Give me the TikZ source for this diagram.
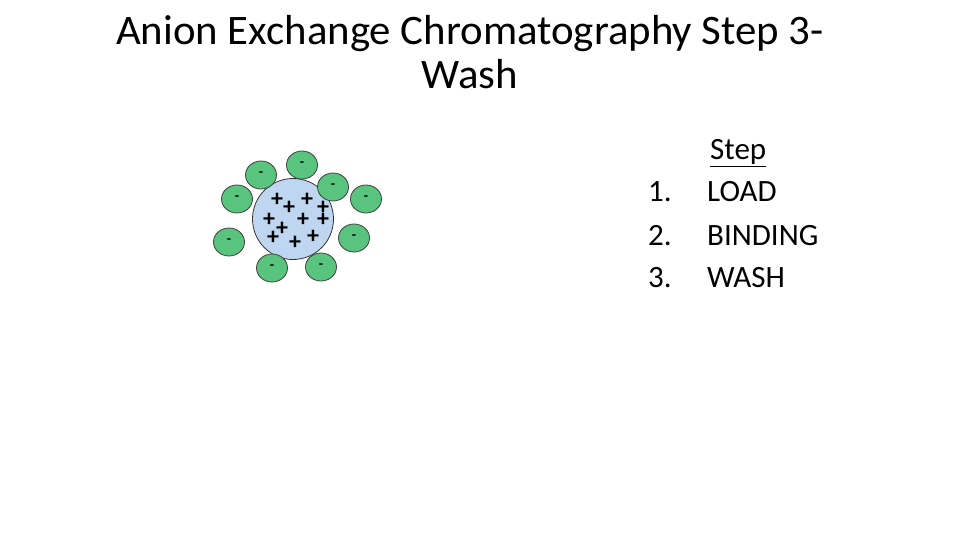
\documentclass[tikz,border=0pt]{standalone}
\usepackage{fontspec}
\setmainfont{Carlito}
\usetikzlibrary{shapes.geometric}
\definecolor{beadblue}{RGB}{190,214,240}
\definecolor{iongreen}{RGB}{88,196,126}
\begin{document}
\begin{tikzpicture}[x=1pt,y=-1pt,
  bead/.style={draw=black!80,fill=beadblue,line width=0.8pt},
  ion/.style={draw=black!75,fill=iongreen,line width=0.8pt,ellipse,minimum width=31pt,minimum height=28pt,inner sep=0pt},
  plus/.style={font=\bfseries\fontsize{24}{24}\selectfont,inner sep=0pt},
  txt/.style={font=\fontsize{31}{31}\selectfont,anchor=base west,inner sep=0pt}]
\useasboundingbox (0,0) rectangle (960,540);
\fill[white] (0,0) rectangle (960,540);
\node[font=\fontsize{42}{44}\selectfont,align=center,inner sep=0pt,xscale=1.02] (title) at (470,52) {Anion Exchange Chromatography Step 3-\\Wash};
\node[bead,circle,minimum size=81pt,inner sep=0pt] (b) at (293,219) {};
\foreach \x/\y [count=\i] in {277/200,289/208,307/200,323/208,269/220,282/229,303/220,323/220,273/238,295/243,313/237}
  \node[plus] (p\i) at (\x,\y) {+};
\foreach \x/\y [count=\i] in {302/165,261/175,333/187,366/199,237/199,229/242,354/238,272/268,321/267}
  \node[ion] (m\i) at (\x,\y) {\raisebox{2pt}{\bfseries\fontsize{14}{14}\selectfont -}};
\node[txt] (s) at (710,160) {\underline{Step}};
\node[txt] (n1) at (648,201) {1.};
\node[txt] (t1) at (707,201) {LOAD};
\node[txt] (n2) at (648,245) {2.};
\node[txt] (t2) at (707,245) {BINDING};
\node[txt] (n3) at (648,287) {3.};
\node[txt] (t3) at (707,287) {WASH};
\end{tikzpicture}
\end{document}
